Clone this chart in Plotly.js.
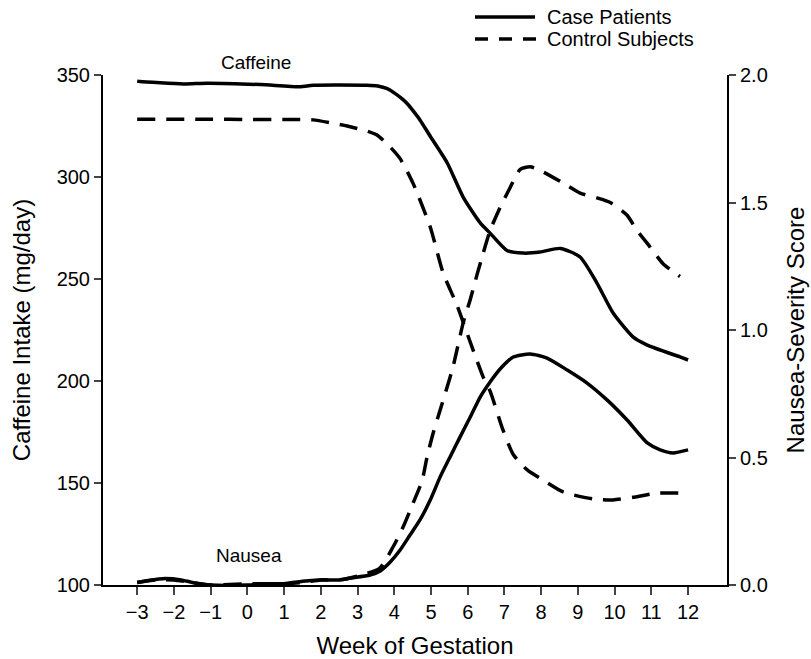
<!DOCTYPE html>
<html>
<head>
<meta charset="utf-8">
<script src="https://cdn.plot.ly/plotly-3.0.1.min.js"></script>
<style>html,body{margin:0;padding:0;background:#fff;}#chart{width:811px;height:659px;}</style>
</head>
<body>
<div id="chart"></div>
<script>
// Caffeine intake (mg/day), left axis
const caseCaffWeek = [-3, -2.92, -1.75, -1.09, 0.35, 1.44, 1.79, 3.26, 3.55, 3.81, 4.02, 4.2, 4.35, 4.51, 4.70, 4.98, 5.44, 5.88, 6.34, 6.61, 7.07, 7.51, 7.97, 8.52, 9.06, 9.52, 9.96, 10.50, 10.89, 11.78, 12];
const caseCaff     = [347, 346.8, 345.6, 346, 345.3, 344.2, 345, 345, 344.6, 343.3, 341, 338.5, 336, 332.5, 328, 320, 307, 290, 277.5, 272.5, 264, 262.7, 263.2, 265, 260.8, 248, 233.3, 221.6, 217.6, 211.8, 210.3];

const ctrlCaffWeek = [-3, -1, 0, 1, 1.79, 2.34, 2.72, 3.26, 3.53, 3.89, 4.16, 4.51, 4.98, 5.33, 5.71, 6.15, 6.42, 6.61, 6.96, 7.24, 7.62, 8.05, 8.60, 9.41, 9.96, 10.50, 11.16, 12];
const ctrlCaff     = [328.3, 328.3, 328.2, 328.2, 328, 326.3, 325, 322.5, 320.6, 314.7, 309, 297, 275.5, 253, 237, 215, 202, 195, 176, 164, 156.4, 151.5, 145.6, 142.2, 141.7, 143, 145, 145];

// Nausea-severity score, right axis
const caseNauWeek = [-3, -2.6, -2.3, -1.8, -1.5, -1, 0, 0.5, 1, 1.5, 2, 2.5, 2.8, 3.34, 3.62, 3.89, 4.16, 4.43, 4.70, 4.98, 5.25, 5.52, 5.79, 6.07, 6.34, 6.61, 6.90, 7.24, 7.70, 8.16, 8.71, 9.25, 9.80, 10.34, 10.89, 11.24, 11.59, 12];
const caseNau     = [0.01, 0.02, 0.025, 0.02, 0.01, 0.0, 0.0, 0.005, 0.005, 0.015, 0.02, 0.02, 0.027, 0.039, 0.055, 0.09, 0.137, 0.196, 0.255, 0.333, 0.424, 0.502, 0.58, 0.659, 0.737, 0.796, 0.85, 0.894, 0.906, 0.89, 0.843, 0.792, 0.725, 0.647, 0.557, 0.53, 0.518, 0.53];

const ctrlNauWeek = [-3, -2.5, -2, -1.5, -1, 0, 1, 1.5, 2, 2.5, 3, 3.6, 3.97, 4.24, 4.51, 4.76, 4.89, 5.06, 5.25, 5.44, 5.60, 5.88, 6.07, 6.26, 6.42, 6.61, 6.88, 7.16, 7.43, 7.70, 8.05, 8.60, 9.06, 9.52, 9.88, 10.34, 10.61, 10.89, 11.32, 11.78];
const ctrlNau     = [0.01, 0.02, 0.02, 0.01, 0.0, 0.005, 0.005, 0.01, 0.02, 0.02, 0.035, 0.065, 0.15, 0.227, 0.32, 0.41, 0.50, 0.596, 0.686, 0.776, 0.855, 1.03, 1.12, 1.22, 1.30, 1.39, 1.48, 1.56, 1.63, 1.64, 1.62, 1.576, 1.537, 1.518, 1.50, 1.45, 1.39, 1.34, 1.26, 1.21];

const xTicks = [-3, -2, -1, 0, 1, 2, 3, 4, 5, 6, 7, 8, 9, 10, 11, 12];
const leftTicks = [100, 150, 200, 250, 300, 350];
const rightTicks = [0, 0.5, 1.0, 1.5, 2.0];
const rightTickText = ['0.0', '0.5', '1.0', '1.5', '2.0'];
const seriesNames = ['Case Patients', 'Control Subjects'];

const FONT = 'Liberation Sans, Arial, sans-serif';
const solid = {color: '#000', width: 3.5, shape: 'spline', smoothing: 0.6};
const dashed = {color: '#000', width: 3.5, shape: 'spline', smoothing: 0.6, dash: '18px,11px'};

const traces = [
  {x: caseCaffWeek, y: caseCaff, mode: 'lines', line: solid, name: seriesNames[0], yaxis: 'y'},
  {x: ctrlCaffWeek, y: ctrlCaff, mode: 'lines', line: dashed, name: seriesNames[1], yaxis: 'y'},
  {x: caseNauWeek, y: caseNau, mode: 'lines', line: solid, name: seriesNames[0], yaxis: 'y2'},
  {x: ctrlNauWeek, y: ctrlNau, mode: 'lines', line: dashed, name: seriesNames[1], yaxis: 'y2'}
];

// layout helpers (pixel -> paper)
const L = 103, R = 727, T = 75, B = 585;
const px = v => (v - L) / (R - L);
const py = v => (B - v) / (B - T);

const layout = {
  width: 811, height: 659,
  margin: {l: L, r: 811 - R, t: T, b: 659 - B},
  paper_bgcolor: '#fff', plot_bgcolor: '#fff',
  showlegend: false,
  font: {family: FONT, color: '#000', size: 20},
  xaxis: {
    range: [-3.93, 13.06], tickvals: xTicks, ticks: 'outside', ticklen: 8, tickwidth: 2,
    showline: true, linewidth: 2, linecolor: '#000', showgrid: false, zeroline: false,
    tickfont: {size: 20, family: FONT},
    title: {text: 'Week of Gestation', font: {size: 24, family: FONT}, standoff: 16}
  },
  yaxis: {
    range: [100, 350], tickvals: leftTicks, ticks: 'outside', ticklen: 7, tickwidth: 2,
    showline: true, linewidth: 2, linecolor: '#000', showgrid: false, zeroline: false,
    tickfont: {size: 20, family: FONT},
    title: {text: 'Caffeine Intake (mg/day)', font: {size: 24, family: FONT}, standoff: 19}
  },
  yaxis2: {
    range: [0, 2], overlaying: 'y', side: 'right', tickvals: rightTicks, ticktext: rightTickText,
    ticks: 'outside', ticklen: 7, tickwidth: 2,
    showline: true, linewidth: 2, linecolor: '#000', showgrid: false, zeroline: false,
    tickfont: {size: 20, family: FONT},
    title: {text: 'Nausea-Severity Score', font: {size: 24, family: FONT}, standoff: 20}
  },
  shapes: [
    {type: 'line', xref: 'paper', yref: 'paper', x0: px(475), x1: px(535), y0: py(17), y1: py(17), line: {color: '#000', width: 3.5}},
    {type: 'line', xref: 'paper', yref: 'paper', x0: px(475), x1: px(537), y0: py(39), y1: py(39), line: {color: '#000', width: 3.5, dash: '13px,11px'}}
  ],
  annotations: [
    {xref: 'paper', yref: 'paper', x: px(545), y: py(17), xanchor: 'left', yanchor: 'middle', text: seriesNames[0], showarrow: false, font: {size: 20, family: FONT}},
    {xref: 'paper', yref: 'paper', x: px(545), y: py(39), xanchor: 'left', yanchor: 'middle', text: seriesNames[1], showarrow: false, font: {size: 20, family: FONT}},
    {xref: 'paper', yref: 'paper', x: px(256), y: py(62), xanchor: 'center', yanchor: 'middle', text: 'Caffeine', showarrow: false, font: {size: 19, family: FONT}},
    {xref: 'paper', yref: 'paper', x: px(249), y: py(555), xanchor: 'center', yanchor: 'middle', text: 'Nausea', showarrow: false, font: {size: 19, family: FONT}}
  ]
};

Plotly.newPlot('chart', traces, layout, {displayModeBar: false, staticPlot: true});
</script>
</body>
</html>
